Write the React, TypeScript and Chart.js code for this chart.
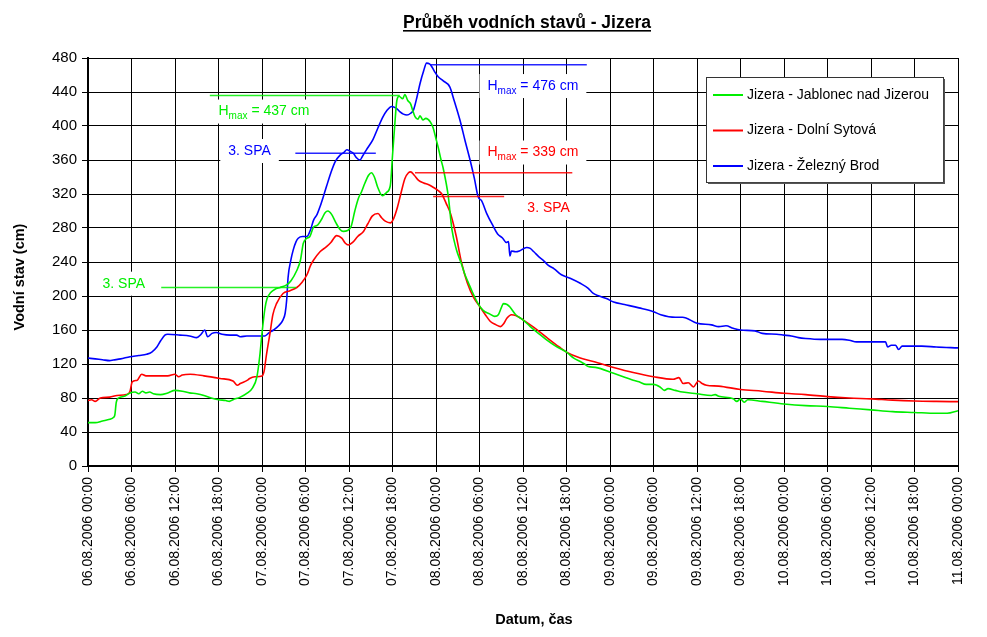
import React, { useEffect, useRef } from "react";
import { Chart, registerables } from "chart.js";

Chart.register(...registerables);

const chartTitle = "Průběh vodních stavů - Jizera";
const xAxisTitle = "Datum, čas";
const yAxisTitle = "Vodní stav (cm)";

const tickLabels = [
  "06.08.2006 00:00", "06.08.2006 06:00", "06.08.2006 12:00", "06.08.2006 18:00",
  "07.08.2006 00:00", "07.08.2006 06:00", "07.08.2006 12:00", "07.08.2006 18:00",
  "08.08.2006 00:00", "08.08.2006 06:00", "08.08.2006 12:00", "08.08.2006 18:00",
  "09.08.2006 00:00", "09.08.2006 06:00", "09.08.2006 12:00", "09.08.2006 18:00",
  "10.08.2006 00:00", "10.08.2006 06:00", "10.08.2006 12:00", "10.08.2006 18:00",
  "11.08.2006 00:00",
];

const seriesNames = [
  "Jizera - Jablonec nad Jizerou",
  "Jizera - Dolní Sytová",
  "Jizera - Železný Brod",
];

// hours since 06.08.2006 00:00 and water levels (cm)
const jablonecHours = [
  0, 1, 2, 3, 3.5, 3.7, 3.9, 4.2, 5, 5.8, 6.5, 7, 7.5, 8, 8.5, 9, 10, 11, 12, 13, 14, 15, 16, 17, 18, 19, 19.5, 20, 21, 22,
  22.7, 23.3, 23.7, 24, 24.4, 24.7, 25.2, 25.8, 26.5, 27.4, 28, 28.8, 29.3, 29.7, 30.2, 30.6, 31.1, 31.6, 32.2, 32.7, 33.1,
  33.6, 34.2, 34.8, 35.2, 35.8, 36.3, 36.8, 37.3, 37.7, 38.2, 38.7, 39.1, 39.5, 40, 40.6, 41.2, 41.7, 42, 42.3, 42.6, 42.9,
  43.4, 43.7, 44.1, 44.5, 44.8, 45.1, 45.5, 45.8, 46.2, 46.6, 47.2, 47.6, 48, 48.3, 48.7, 49, 49.7, 50.2, 50.8, 51.5, 52,
  52.5, 53, 53.8, 54.5, 55.4, 56.1, 56.6, 57, 57.3, 57.8, 58.2, 59, 60, 61, 62, 63.3, 64.5, 66, 67, 67.9, 68.5, 69, 70,
  72.5, 75.2, 76, 77, 78, 78.9, 79.5, 80, 81, 82, 84, 86, 86.5, 87, 89, 89.5, 90, 90.5, 91, 93, 96, 99, 102, 105, 108, 111,
  114, 117, 118.5, 120,
];
const jablonecLevels = [
  51, 51, 53, 55, 57, 60, 75, 80, 82, 86, 87, 85, 88, 86, 87, 85, 84, 86, 89, 88, 86, 85, 83, 80, 78, 77, 76, 78, 81, 86,
  92, 105, 130, 156, 185, 197, 204, 208, 210, 213, 218, 230, 242, 262, 268, 270, 281, 283, 290, 298, 300,
  296, 286, 278, 276, 277, 282, 300, 315, 322, 333, 342, 345, 340, 327, 318, 322, 330, 365, 400, 430, 435,
  432, 437, 430, 426, 418, 411, 408, 412, 407, 409, 405, 398, 385, 375, 360, 350, 317, 278, 255, 238, 225,
  215, 205, 191, 183, 179, 176, 178, 186, 191, 190, 187, 178, 172, 164, 157, 148, 141, 134, 127, 123, 120, 117, 116,
  109, 101, 99, 96, 96, 93, 89, 91, 89, 87, 85, 83, 84, 82, 79, 76, 79, 75, 78, 76, 73, 71, 70, 68, 66, 64,
  63, 62, 62, 65,
];

const sytovaHours = [
  0, 0.5, 1, 1.7, 3, 4, 5.3, 5.8, 6.1, 6.8, 7.4, 8, 9.5, 11, 12, 12.5, 13, 14.1, 16, 18.2, 20, 20.6, 21, 22, 22.3, 23, 24,
  24.3, 24.6, 25.1, 25.5, 26, 26.9, 27.8, 28.8, 29.5, 30.2, 30.7, 31.1, 32, 32.9, 33.5, 34.3, 35, 35.5, 35.9, 36.5, 37.2,
  38, 38.6, 39.2, 40, 40.5, 41, 41.7, 42.2, 42.7, 43.2, 43.7, 44.2, 44.5, 45, 45.6, 46.3, 47, 47.6, 48.3, 48.8, 49.4, 50,
  50.8, 51.5, 52.3, 53.2, 54, 54.8, 55.5, 56.3, 56.9, 57.3, 57.8, 58.4, 59, 60, 61.5, 63.3, 65, 66, 67.9, 69.7, 72.5, 75.2,
  78, 80.7, 81.5, 82.1, 82.8, 83.5, 84.2, 84.7, 85.3, 87, 90, 93, 96, 99, 102, 105, 108, 111, 114, 117, 120,
];
const sytovaLevels = [
  77, 78, 76, 80, 81, 83, 84, 88, 99, 101, 108, 106, 106, 106, 108, 105, 107, 108, 106, 103, 100, 95, 97, 101, 103, 105, 106,
  112, 130, 156, 178, 191, 203, 206, 210, 216, 225, 236, 242, 252, 258, 263, 271, 268, 262, 260, 263, 270,
  276, 285, 294, 297, 292, 288, 286, 292, 305, 322, 338, 345, 346, 342, 336, 333, 331, 328, 324, 320, 309, 297,
  270, 240, 216, 198, 188, 178, 170, 166, 164, 167, 174, 178, 177, 172, 163, 151, 140, 134, 127, 123, 116, 110,
  105, 102, 104, 97, 98, 93, 100, 97, 95, 94, 90, 88, 85.5, 84, 81.6, 80, 79, 77.5, 76.5, 76, 75.7,
];

const brodHours = [
  0, 1, 2, 3, 3.5, 4.5, 5.8, 7, 8.1, 8.8, 9.5, 10, 10.6, 11, 12.7, 14, 15, 15.6, 16.1, 16.5, 17.1, 17.7, 18.5, 19.6, 20.5,
  21, 21.9, 23, 24, 24.4, 25, 25.6, 26.3, 26.9, 27.2, 27.4, 27.6, 28, 28.3, 28.7, 29, 29.6, 30.2, 30.7, 31.1, 31.6, 32,
  32.5, 32.9, 33.5, 34.1, 34.8, 35.3, 35.7, 36.2, 36.6, 37, 37.5, 37.9, 38.4, 39.3, 40, 40.7, 41.2, 41.9, 42.5, 43, 43.5,
  44, 44.5, 44.9, 45.4, 45.8, 46.3, 46.7, 47.1, 47.4, 47.8, 48.3, 49, 49.9, 50.5, 51.3, 52, 52.7, 53.3, 53.8, 54.3, 55,
  55.9, 56.5, 57.2, 57.7, 58, 58.2, 58.4, 59, 59.5, 60.5, 61, 61.5, 62.2, 62.8, 63.5, 64.3, 65.3, 66.5, 67.9, 69, 69.7,
  70.5, 71.5, 72.5, 74, 76, 78, 79, 81, 82, 84, 86, 87, 88, 89, 90, 92, 93, 95, 96, 97, 98, 99, 101, 102, 104, 105, 106,
  108, 110, 110.3, 110.8, 111.4, 111.8, 112.3, 113.8, 115, 117, 120,
];
const brodLevels = [
  127, 126, 125, 124, 124.7, 126, 128.6, 130, 131.5, 134, 140, 147, 154, 155, 154, 153, 151, 155, 160, 152, 156, 157, 155, 154, 154,
  152, 153, 153, 153, 153, 157, 160, 165, 172, 180, 195, 222, 243, 254, 264, 268, 270, 270, 278, 289, 296, 305,
  318, 329, 345, 358, 366, 369, 372, 370, 368, 363, 360, 365, 372, 384, 398, 411, 418, 423, 421, 417, 414,
  413, 415, 419, 435, 450, 465, 474, 473, 470, 464, 458, 453, 446, 430, 407, 383, 360, 338, 317, 312, 297,
  282, 273, 268, 263, 264, 247, 253, 252, 253, 257, 256, 252, 246, 242, 236, 232, 225, 221, 215, 209, 203,
  200, 197, 193, 190, 186, 181.5, 178, 175, 175, 168, 166, 164, 165, 162, 160, 159, 156, 155, 154, 153, 151, 150, 149, 149, 149, 148, 146,
  146, 146, 140, 142, 142, 137, 141, 141, 141, 140, 139,
];

// annotations in data coordinates (hours, cm)
const markerLines = [
  { series: 0, level: 436, from: 16.8, to: 43 },
  { series: 2, level: 368, from: 28.6, to: 39.7 },
  { series: 0, level: 210, from: 10.1, to: 28.7 },
  { series: 2, level: 472, from: 47.2, to: 68.8 },
  { series: 1, level: 345, from: 45.1, to: 66.8 },
  { series: 1, level: 317, from: 47.6, to: 57.4 },
];
const markerTexts = [
  { series: 0, hmax: "437", at: 18.0, level: 417 },
  { series: 2, hmax: "", at: 19.35, level: 370.6 },
  { series: 0, hmax: "", at: 2.0, level: 214.5 },
  { series: 2, hmax: "476", at: 55.1, level: 447 },
  { series: 1, hmax: "339", at: 55.1, level: 368.8 },
  { series: 1, hmax: "", at: 60.6, level: 303.5 },
];

const COLORS = ["#00ee00", "#ff0000", "#0000ff"];
const FONT = "'Liberation Sans', Arial, Helvetica, sans-serif";

function toPoints(xs: number[], ys: number[]) {
  return xs.map((x, i) => ({ x, y: ys[i] }));
}

const decorPlugin = {
  id: "decor",
  afterDatasetsDraw(chart: any) {
    const { ctx, scales } = chart;
    const xs = scales.x;
    const ys = scales.y;
    ctx.save();
    markerLines.forEach((m) => {
      ctx.strokeStyle = COLORS[m.series];
      ctx.globalAlpha = 0.85;
      ctx.lineWidth = 1.5;
      const y = ys.getPixelForValue(m.level);
      ctx.beginPath();
      ctx.moveTo(xs.getPixelForValue(m.from), y);
      ctx.lineTo(xs.getPixelForValue(m.to), y);
      ctx.stroke();
    });
    ctx.globalAlpha = 1;
    markerTexts.forEach((t) => {
      const x = xs.getPixelForValue(t.at);
      const y = ys.getPixelForValue(t.level);
      ctx.textBaseline = "middle";
      ctx.textAlign = "left";
      if (t.hmax) {
        ctx.font = `14px ${FONT}`;
        const wH = ctx.measureText("H").width;
        ctx.font = `10px ${FONT}`;
        const wSub = ctx.measureText("max").width;
        ctx.font = `14px ${FONT}`;
        const rest = ` = ${t.hmax} cm`;
        const wRest = ctx.measureText(rest).width;
        const w = wH + wSub + wRest;
        ctx.fillStyle = "#ffffff";
        ctx.fillRect(x - 8, y - 12, w + 16, 24);
        ctx.fillStyle = COLORS[t.series];
        ctx.fillText("H", x, y);
        ctx.font = `10px ${FONT}`;
        ctx.fillText("max", x + wH, y + 5);
        ctx.font = `14px ${FONT}`;
        ctx.fillText(rest, x + wH + wSub, y);
      } else {
        ctx.font = `14px ${FONT}`;
        const txt = "3. SPA";
        const w = ctx.measureText(txt).width;
        ctx.fillStyle = "#ffffff";
        ctx.fillRect(x - 8, y - 12, w + 16, 24);
        ctx.fillStyle = COLORS[t.series];
        ctx.fillText(txt, x, y);
      }
    });
    ctx.restore();
  },
  afterDraw(chart: any) {
    const { ctx, chartArea } = chart;
    ctx.save();
    ctx.fillStyle = "#000";
    ctx.font = `bold 17.5px ${FONT}`;
    ctx.textAlign = "center";
    ctx.textBaseline = "alphabetic";
    const tx = 527;
    ctx.fillText(chartTitle, tx, 28);
    const tw = ctx.measureText(chartTitle).width;
    ctx.fillRect(tx - tw / 2, 30, tw, 1.6);
    ctx.font = `bold 14.5px ${FONT}`;
    ctx.textBaseline = "middle";
    ctx.fillText(xAxisTitle, (chartArea.left + chartArea.right) / 2 + 11, 620);
    ctx.save();
    ctx.translate(20, (chartArea.top + chartArea.bottom) / 2 + 15);
    ctx.rotate(-Math.PI / 2);
    ctx.fillText(yAxisTitle, 0, 0);
    ctx.restore();
    const lx = chartArea.right - 252;
    const ly = chartArea.top + 19;
    const lw = 237;
    const lh = 105;
    ctx.fillStyle = "#ffffff";
    ctx.fillRect(lx, ly, lw, lh);
    ctx.strokeStyle = "#333";
    ctx.lineWidth = 1;
    ctx.strokeRect(lx + 0.5, ly + 0.5, lw, lh);
    ctx.fillStyle = "#555";
    ctx.fillRect(lx + lw + 0.5, ly + 2, 1.5, lh);
    ctx.fillRect(lx + 2, ly + lh + 0.5, lw, 1.5);
    ctx.font = `14px ${FONT}`;
    ctx.textAlign = "left";
    ctx.textBaseline = "middle";
    seriesNames.forEach((name, i) => {
      const yy = ly + 18 + i * 35.5;
      ctx.strokeStyle = COLORS[i];
      ctx.lineWidth = 2;
      ctx.beginPath();
      ctx.moveTo(lx + 7, yy);
      ctx.lineTo(lx + 37, yy);
      ctx.stroke();
      ctx.fillStyle = "#000";
      ctx.fillText(name, lx + 41, yy);
    });
    ctx.restore();
  },
};

export default function App() {
  const canvasRef = useRef<HTMLCanvasElement | null>(null);

  useEffect(() => {
    const canvas = canvasRef.current;
    if (!canvas) return;
    Chart.defaults.font.family = FONT;
    const chart = new Chart(canvas, {
      type: "line",
      data: {
        datasets: [
          { label: seriesNames[0], data: toPoints(jablonecHours, jablonecLevels), borderColor: COLORS[0] },
          { label: seriesNames[1], data: toPoints(sytovaHours, sytovaLevels), borderColor: COLORS[1] },
          { label: seriesNames[2], data: toPoints(brodHours, brodLevels), borderColor: COLORS[2] },
        ].map((d) => ({
          ...d,
          borderWidth: 1.6,
          pointRadius: 0,
          cubicInterpolationMode: "monotone",
          fill: false,
          backgroundColor: d.borderColor,
        })),
      },
      options: {
        responsive: false,
        animation: false,
        devicePixelRatio: 1,
        layout: { padding: { left: 0, top: 58, right: 29, bottom: 0 } },
        plugins: {
          legend: { display: false },
          title: { display: false },
          tooltip: { enabled: false },
        },
        scales: {
          x: {
            type: "linear",
            min: 0,
            max: 120,
            ticks: {
              stepSize: 6,
              autoSkip: false,
              minRotation: 90,
              maxRotation: 90,
              padding: 5,
              color: "#000",
              font: { size: 14, family: FONT },
              callback: (value: any) => {
                const idx = Math.round(Number(value) / 6);
                return tickLabels[idx] ?? "";
              },
            },
            grid: { color: "#000", lineWidth: 1, tickLength: 6, tickColor: "#000" },
            border: { color: "#000", width: 2 },
            afterFit: (scale: any) => {
              scale.height = 171;
            },
          },
          y: {
            min: 0,
            max: 480,
            ticks: {
              stepSize: 40,
              padding: 5,
              color: "#000",
              font: { size: 15, family: FONT },
            },
            grid: { color: "#000", lineWidth: 1, tickLength: 6, tickColor: "#000" },
            border: { color: "#000", width: 2 },
            afterFit: (scale: any) => {
              scale.width = 88;
            },
          },
        },
      },
      plugins: [decorPlugin],
    });
    return () => chart.destroy();
  }, []);

  return (
    <div style={{ position: "absolute", left: 0, top: 0, width: 987, height: 637, background: "#fff" }}>
      <canvas ref={canvasRef} width={987} height={637} style={{ width: 987, height: 637, display: "block" }} />
    </div>
  );
}
